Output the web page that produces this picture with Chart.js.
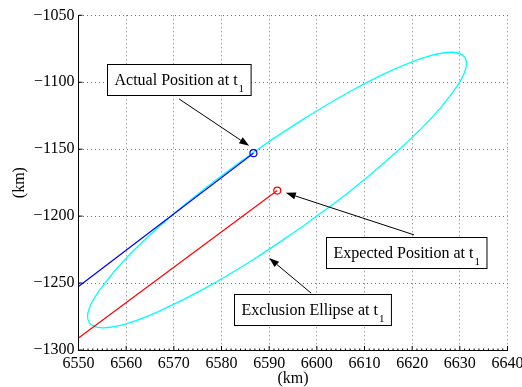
<!DOCTYPE html>
<html>
<head>
<meta charset="utf-8">
<script src="https://cdn.jsdelivr.net/npm/chart.js@4.4.1/dist/chart.umd.min.js"></script>
<style>
  html, body { margin: 0; padding: 0; background: #fff; }
  #wrap { width: 522px; height: 387px; }
</style>
</head>
<body>
<div id="wrap"><canvas id="orbitChart" width="522" height="387"></canvas></div>
<script>
// exclusion ellipse outline (km), once around, starting on the lower side
const ellipseX = [6597.1, 6586.7, 6576.7, 6567.6, 6560.3, 6555.0, 6552.3, 6552.2, 6554.9, 6560.0,
                  6567.3, 6576.3, 6586.3, 6596.7, 6606.7, 6615.7, 6623.0, 6628.3, 6631.0, 6631.1,
                  6628.4, 6623.3, 6616.0, 6607.1, 6597.1];
const ellipseY = [-1207.6, -1232.4, -1253.6, -1269.9, -1280.1, -1283.4, -1279.8, -1269.4, -1253.0, -1231.5,
                  -1206.7, -1180.0, -1153.4, -1128.7, -1107.5, -1091.2, -1081.0, -1077.6, -1081.3, -1091.6,
                  -1108.1, -1129.6, -1154.3, -1181.0, -1207.6];

// actual track (blue) and expected track (red), last point = position at t1
const actualX = [6550, 6586.7];
const actualY = [-1252.5, -1153.0];
const expectedX = [6550, 6591.7];
const expectedY = [-1291.0, -1180.9];

const xRange = [6550, 6640];
const yRange = [-1300, -1050];
const xStep = 10;
const yStep = 50;

const labels = [
    { text: 'Actual Position at t', sub: '1', box: [6571.1, -1097.9], tail: [6571.1, -1112.5], head: [6585.8, -1147.5] },
    { text: 'Expected Position at t', sub: '1', box: [6618.8, -1227.0], tail: [6620.4, -1214.0], head: [6593.5, -1182.6] },
    { text: 'Exclusion Ellipse at t', sub: '1', box: [6599.0, -1269.9], tail: [6598.8, -1257.5], head: [6590.0, -1231.3] }
];

function toPoints(xs, ys) { return xs.map((x, i) => ({ x: x, y: ys[i] })); }
function minus(v) { return String(v).replace('-', '\u2212'); }

const serif = '"Liberation Serif", "Times New Roman", serif';
Chart.defaults.font.family = serif;
Chart.defaults.font.size = 16;
Chart.defaults.color = '#000';

// small inward tick marks on the left and bottom axes
const axisTicks = {
    id: 'axisTicks',
    afterDraw(chart) {
        const { ctx, chartArea: a, scales: { x, y } } = chart;
        ctx.save();
        ctx.strokeStyle = '#000';
        ctx.lineWidth = 1;
        ctx.beginPath();
        for (let v = x.min; v <= x.max; v += 1) {
            const px = x.getPixelForValue(v);
            const len = (v - x.min) % xStep === 0 ? 4 : 1.5;
            ctx.moveTo(px, a.bottom);
            ctx.lineTo(px, a.bottom - len);
        }
        for (let v = y.min; v <= y.max; v += yStep) {
            const py = y.getPixelForValue(v);
            ctx.moveTo(a.left, py);
            ctx.lineTo(a.left + 4, py);
        }
        ctx.stroke();
        ctx.restore();
    }
};

// text boxes with arrows
const textArrows = {
    id: 'textArrows',
    afterDraw(chart) {
        const { ctx, scales: { x, y } } = chart;
        ctx.save();
        labels.forEach(l => {
            const tx = x.getPixelForValue(l.tail[0]), ty = y.getPixelForValue(l.tail[1]);
            const hx = x.getPixelForValue(l.head[0]), hy = y.getPixelForValue(l.head[1]);
            const ang = Math.atan2(hy - ty, hx - tx);
            const headLen = 10, headW = 3.5;
            const bx = hx - headLen * Math.cos(ang), by = hy - headLen * Math.sin(ang);
            ctx.strokeStyle = '#000';
            ctx.fillStyle = '#000';
            ctx.lineWidth = 1;
            ctx.beginPath();
            ctx.moveTo(tx, ty);
            ctx.lineTo(bx, by);
            ctx.stroke();
            ctx.beginPath();
            ctx.moveTo(hx, hy);
            ctx.lineTo(bx + headW * Math.sin(ang), by - headW * Math.cos(ang));
            ctx.lineTo(bx - headW * Math.sin(ang), by + headW * Math.cos(ang));
            ctx.closePath();
            ctx.fill();

            ctx.font = '16px ' + serif;
            const w1 = ctx.measureText(l.text).width;
            ctx.font = '11px ' + serif;
            const w2 = ctx.measureText(l.sub).width;
            const w = w1 + 1 + w2 + 14, h = 31;
            const cx = x.getPixelForValue(l.box[0]), cy = y.getPixelForValue(l.box[1]);
            const left = Math.round(cx - w / 2) + 0.5, top = Math.round(cy - h / 2) + 0.5;
            ctx.fillStyle = '#fff';
            ctx.fillRect(left, top, w, h);
            ctx.strokeRect(left, top, w, h);
            ctx.fillStyle = '#000';
            ctx.textBaseline = 'alphabetic';
            ctx.textAlign = 'left';
            ctx.font = '16px ' + serif;
            ctx.fillText(l.text, left + 7, top + 20);
            ctx.font = '11px ' + serif;
            ctx.fillText(l.sub, left + 7 + w1 + 1, top + 27);
        });
        ctx.restore();
    }
};

const grid = { display: true, color: 'rgba(0,0,0,0.55)', lineWidth: 1, drawTicks: false };
const border = { display: true, color: '#000', width: 1, dash: [1, 3] };

new Chart(document.getElementById('orbitChart'), {
    type: 'scatter',
    data: {
        datasets: [
            {
                label: 'Actual',
                data: toPoints(actualX, actualY),
                showLine: true,
                borderColor: '#0000ff',
                borderWidth: 1.2,
                pointRadius: [0, 3.5],
                pointBorderColor: '#0000ff',
                pointBackgroundColor: 'rgba(0,0,0,0)',
                pointBorderWidth: 1.2,
                order: 1
            },
            {
                label: 'Expected',
                data: toPoints(expectedX, expectedY),
                showLine: true,
                borderColor: '#ff0000',
                borderWidth: 1.2,
                pointRadius: [0, 3.5],
                pointBorderColor: '#ff0000',
                pointBackgroundColor: 'rgba(0,0,0,0)',
                pointBorderWidth: 1.2,
                order: 2
            },
            {
                label: 'Ellipse',
                data: toPoints(ellipseX, ellipseY),
                showLine: true,
                borderColor: '#00ffff',
                borderWidth: 1.3,
                pointRadius: 0,
                tension: 0.4,
                order: 3
            }
        ]
    },
    options: {
        responsive: false,
        devicePixelRatio: 1,
        animation: false,
        layout: { padding: { top: 15.3, right: 14.5, left: 0, bottom: 0 } },
        plugins: { legend: { display: false }, tooltip: { enabled: false } },
        scales: {
            x: {
                type: 'linear',
                min: xRange[0],
                max: xRange[1],
                grid: grid,
                border: border,
                ticks: { stepSize: xStep, padding: 4, maxRotation: 0, callback: v => String(v) },
                title: { display: true, text: '(km)', padding: 0, font: { size: 16, lineHeight: 1.0 } },
                afterFit: s => { s.height = 37; s.paddingLeft = 0; s.paddingRight = 0; }
            },
            y: {
                type: 'linear',
                min: yRange[0],
                max: yRange[1],
                grid: grid,
                border: border,
                ticks: { stepSize: yStep, padding: 4, callback: v => minus(v) },
                title: { display: true, text: '(km)', padding: { top: 10, bottom: 0 }, font: { size: 16 } },
                afterFit: s => { s.width = 78.5; }
            }
        }
    },
    plugins: [axisTicks, textArrows]
});
</script>
</body>
</html>
